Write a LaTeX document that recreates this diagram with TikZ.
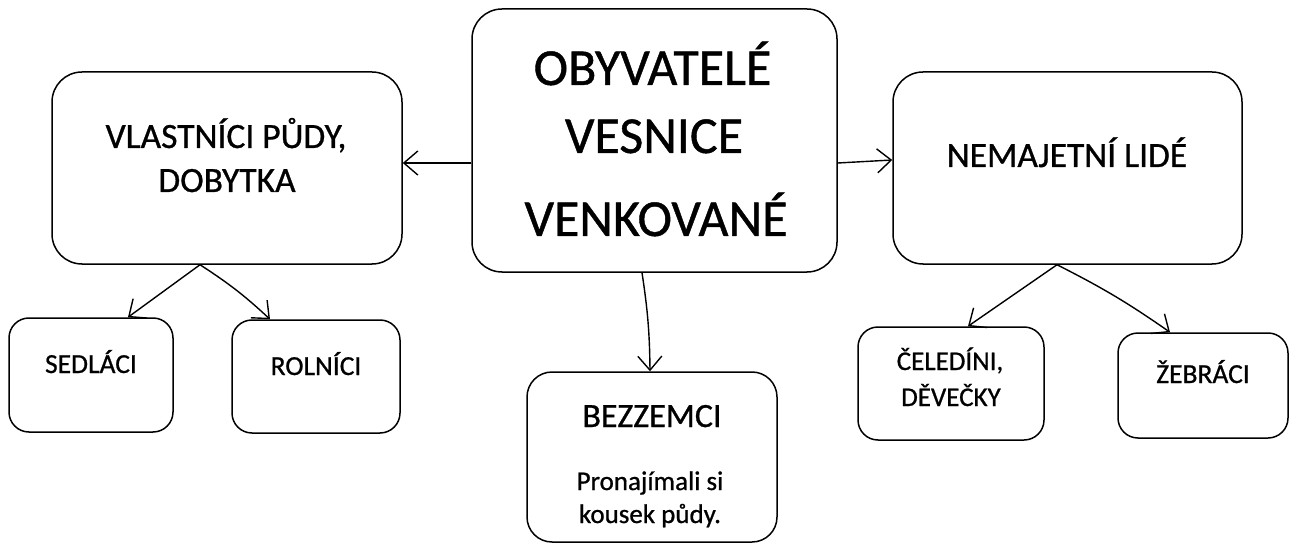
\documentclass[tikz,border=0pt]{standalone}
\usepackage{fontspec}
\setmainfont{Carlito}[FakeBold=0.8]
\usetikzlibrary{arrows.meta}
\begin{document}
\begin{tikzpicture}[x=1pt,y=-1pt,
  box/.style={draw, line width=1.5pt, inner sep=0pt},
  big/.style={rounded corners=30pt},
  small/.style={rounded corners=20pt},
  lbl/.style={anchor=base, inner sep=0pt},
  conn/.style={line width=1.4pt, -{Straight Barb[length=14pt,width=24pt,line width=1.4pt]}}
]
\useasboundingbox (0,0) rectangle (1292,545);
% boxes
\node[box,big,minimum width=365pt,minimum height=263pt] (cen) at (654.5,140.5) {};
\node[box,big,minimum width=350pt,minimum height=192pt] (own) at (227,168) {};
\node[box,big,minimum width=349pt,minimum height=192pt] (poor) at (1067.5,168) {};
\node[box,small,minimum width=164pt,minimum height=114pt] (sed) at (91,375) {};
\node[box,small,minimum width=168pt,minimum height=113pt] (rol) at (316,376.5) {};
\node[box,small,minimum width=186pt,minimum height=113pt] (cel) at (951,383.5) {};
\node[box,small,minimum width=170pt,minimum height=105pt] (zeb) at (1203,385.5) {};
\node[box,rounded corners=25pt,minimum width=250pt,minimum height=170pt] (bez) at (652,457) {};
% texts
\node[lbl,font=\fontsize{52}{60}\selectfont] (t1) at (652.5,85) {OBYVATELÉ};
\node[lbl,font=\fontsize{52}{60}\selectfont] (t2) at (654,153) {VESNICE};
\node[lbl,font=\fontsize{52}{60}\selectfont] (t3) at (656,236) {VENKOVANÉ};
\node[lbl,font=\fontsize{35.5}{42}\selectfont] (o1) at (226,148) {VLASTNÍCI PŮDY,};
\node[lbl,font=\fontsize{35.5}{42}\selectfont] (o2) at (227,192) {DOBYTKA};
\node[lbl,font=\fontsize{35.5}{42}\selectfont] (p1) at (1067,167) {NEMAJETNÍ LIDÉ};
\node[lbl,font=\fontsize{27.5}{33}\selectfont] (s1) at (91,373) {SEDLÁCI};
\node[lbl,font=\fontsize{27.5}{33}\selectfont] (r1) at (316,375) {ROLNÍCI};
\node[lbl,font=\fontsize{27}{33}\selectfont] (c1) at (950,370) {ČELEDÍNI,};
\node[lbl,font=\fontsize{27}{33}\selectfont] (c2) at (951,406) {DĚVEČKY};
\node[lbl,font=\fontsize{27.5}{33}\selectfont] (z1) at (1203,383) {ŽEBRÁCI};
\node[lbl,font=\fontsize{34}{40}\selectfont] (b1) at (652,427) {BEZZEMCI};
\node[lbl,font=\fontsize{27}{33}\selectfont] (b2) at (650,490) {Pronajímali si};
\node[lbl,font=\fontsize{27}{33}\selectfont] (b3) at (650,523) {kousek půdy.};
% connectors
\draw[conn] ([yshift=-22.5pt]cen.west) -- ([yshift=5pt]own.east);
\draw[conn] ([yshift=-22.5pt]cen.east) -- ([yshift=8pt]poor.west);
\draw[conn] ([xshift=-12.5pt]cen.south) to[bend left=4] ([xshift=-2pt]bez.north);
\draw[conn] ([xshift=-27pt]own.south) -- ([xshift=37pt]sed.north);
\draw[conn] ([xshift=-27pt]own.south) to[bend left=5] ([xshift=-46pt]rol.north);
\draw[conn] ([xshift=-10.5pt]poor.south) -- ([xshift=17pt]cel.north);
\draw[conn] ([xshift=-10.5pt]poor.south) to[bend left=4] ([xshift=-33pt]zeb.north);
\end{tikzpicture}
\end{document}
